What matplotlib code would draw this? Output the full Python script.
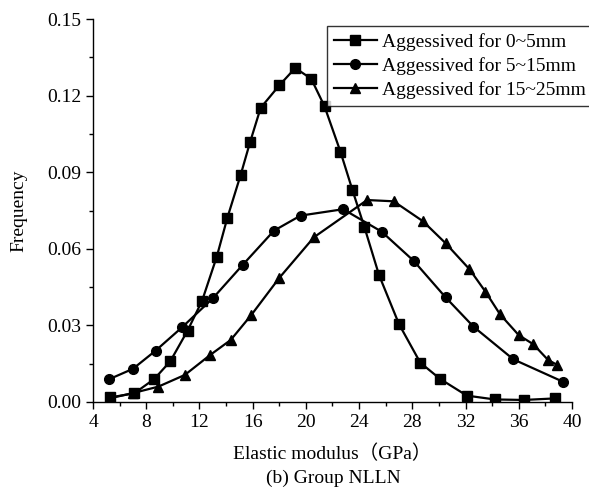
import matplotlib
matplotlib.use("Agg")
import matplotlib.pyplot as plt
from matplotlib.ticker import MultipleLocator, FormatStrFormatter

# Aggessived for 0~5mm (squares)
sq_x = [5.3, 7.1, 8.6, 9.8, 11.1, 12.2, 13.3, 14.1, 15.1, 15.8, 16.6, 18.0, 19.2,
        20.4, 21.4, 22.6, 23.5, 24.4, 25.5, 27.0, 28.6, 30.1, 32.1, 34.2, 36.4, 38.7]
sq_y = [0.0018, 0.0034, 0.0090, 0.0159, 0.0279, 0.0397, 0.0569, 0.0722, 0.0890,
        0.1017, 0.1152, 0.1240, 0.1308, 0.1266, 0.1158, 0.0980, 0.0830, 0.0685,
        0.0497, 0.0305, 0.0154, 0.0090, 0.0025, 0.0010, 0.0008, 0.0014]

# Aggessived for 5~15mm (circles)
ci_x = [5.2, 7.0, 8.7, 10.7, 13.0, 15.25, 17.6, 19.6, 22.8, 25.7, 28.1, 30.5,
        32.6, 35.6, 39.3]
ci_y = [0.0089, 0.0130, 0.0201, 0.0293, 0.0406, 0.0537, 0.0671, 0.0730, 0.0755,
        0.0667, 0.0553, 0.0410, 0.0295, 0.0167, 0.0080]

# Aggessived for 15~25mm (triangles)
tr_x = [5.3, 7.0, 8.9, 10.9, 12.8, 14.35, 15.9, 18.0, 20.6, 24.6, 26.6, 28.8,
        30.5, 32.3, 33.5, 34.6, 36.0, 37.1, 38.2, 38.9]
tr_y = [0.0015, 0.0035, 0.0060, 0.0106, 0.0184, 0.0243, 0.0341, 0.0486, 0.0645,
        0.0791, 0.0786, 0.0708, 0.0622, 0.0520, 0.0432, 0.0343, 0.0262, 0.0226,
        0.0165, 0.0145]

labels = ["Aggessived for 0~5mm", "Aggessived for 5~15mm", "Aggessived for 15~25mm"]

plt.rcParams["font.family"] = ["Liberation Serif", "Noto Sans CJK SC"]

fig = plt.figure(figsize=(5.89, 5.0), dpi=100)
ax = fig.add_axes([0.158, 0.196, 0.813, 0.766])

kw = dict(color="black", linewidth=1.6, markersize=7)
ax.plot(sq_x, sq_y, marker="s", label=labels[0], **kw)
ax.plot(ci_x, ci_y, marker="o", label=labels[1], **kw)
ax.plot(tr_x, tr_y, marker="^", label=labels[2], **kw)

ax.set_xlim(4, 40)
ax.set_ylim(0, 0.15)
ax.xaxis.set_major_locator(MultipleLocator(4))
ax.xaxis.set_minor_locator(MultipleLocator(2))
ax.yaxis.set_major_locator(MultipleLocator(0.03))
ax.yaxis.set_minor_locator(MultipleLocator(0.015))
ax.yaxis.set_major_formatter(FormatStrFormatter("%.2f"))
ax.tick_params(which="major", direction="out", length=5, width=1, labelsize=14)
ax.tick_params(which="minor", direction="out", length=3, width=1)
ax.spines["top"].set_visible(False)
ax.spines["right"].set_visible(False)
for s in ("left", "bottom"):
    ax.spines[s].set_linewidth(1)

ax.set_ylabel("Frequency", fontsize=14, labelpad=14)
ax.set_xlabel("Elastic modulus（GPa）", fontsize=14, labelpad=10)
fig.text(0.566, 0.044, "(b) Group NLLN", ha="center", va="center", fontsize=14)

leg = ax.legend(loc="upper left", bbox_to_anchor=(327 / 589, 1 - 26 / 500),
                bbox_transform=fig.transFigure, fontsize=14, frameon=True,
                fancybox=False, edgecolor="black", handlelength=2.2,
                handletextpad=0.3, borderpad=0.35, labelspacing=0.33,
                borderaxespad=0)
leg.get_frame().set_linewidth(1)

fig.savefig("out.png", dpi=100)
